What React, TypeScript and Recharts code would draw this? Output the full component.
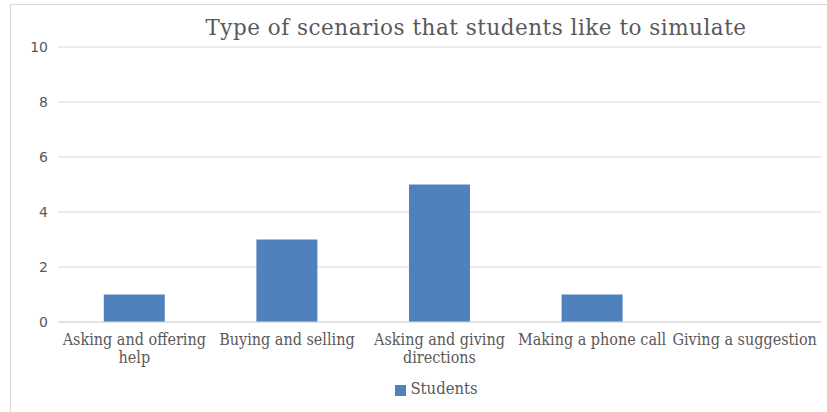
import { BarChart, Bar, XAxis, YAxis, CartesianGrid, Legend } from 'recharts'

const CATEGORIES = [
  'Asking and offering help',
  'Buying and selling',
  'Asking and giving directions',
  'Making a phone call',
  'Giving a suggestion',
]
const STUDENTS = [1, 3, 5, 1, 0]
const Y_TICKS = [0, 2, 4, 6, 8, 10]

const data = CATEGORIES.map((name, i) => ({ name, students: STUDENTS[i] }))

const LABEL_FONT = '"DejaVu Serif Condensed", "DejaVu Serif", serif'

// category labels wrap onto two lines when too wide, like the office chart
function CategoryTick({ x, y, payload }: any) {
  const text: string = payload.value
  let lines = [text]
  if (text.length > 20) {
    const words = text.split(' ')
    lines = [words.slice(0, -1).join(' '), words[words.length - 1]]
  }
  return (
    <text
      x={x}
      y={y + 15}
      textAnchor="middle"
      fill="#595959"
      fontSize={16}
      fontFamily={LABEL_FONT}
      style={{ fontStretch: 'condensed' }}
    >
      {lines.map((l, i) => (
        <tspan key={i} x={x} dy={i === 0 ? 0 : 18}>
          {l}
        </tspan>
      ))}
    </text>
  )
}

export default function App() {
  return (
    <div style={{ position: 'relative', width: 827, height: 412, background: '#fff', overflow: 'hidden' }}>
      <style>{'body{margin:0}'}</style>
      <div
        style={{
          position: 'absolute',
          left: 10,
          top: 4,
          width: 830,
          height: 420,
          border: '1px solid #d9d9d9',
        }}
      />
      <div
        style={{
          position: 'absolute',
          left: 0,
          width: 952,
          top: 15,
          textAlign: 'center',
          fontFamily: '"DejaVu Serif", serif',
          fontSize: 21.5,
          color: '#595959',
          letterSpacing: 0.5,
        }}
      >
        Type of scenarios that students like to simulate
      </div>
      <BarChart
        width={827}
        height={412}
        data={data}
        margin={{ top: 47, right: 6, left: 0, bottom: 5 }}
        barCategoryGap="30%"
        style={{ position: 'absolute', left: 0, top: 0 }}
      >
        <CartesianGrid vertical={false} stroke="#d9d9d9" />
        <XAxis
          dataKey="name"
          interval={0}
          tickLine={false}
          axisLine={{ stroke: '#d9d9d9' }}
          height={57}
          tick={<CategoryTick />}
        />
        <YAxis
          domain={[0, 10]}
          ticks={Y_TICKS}
          width={58}
          tickLine={false}
          axisLine={false}
          tickMargin={4}
          tick={{ fill: '#595959', fontSize: 14, fontFamily: '"DejaVu Sans", sans-serif' }}
        />
        <Legend
          verticalAlign="bottom"
          height={28}
          iconType="square"
          iconSize={11}
          wrapperStyle={{ paddingLeft: 31 }}
          formatter={(v) => (
            <span
              style={{ color: '#595959', fontSize: 16.5, fontFamily: LABEL_FONT, fontStretch: 'condensed' }}
            >
              {v}
            </span>
          )}
        />
        <Bar dataKey="students" name="Students" fill="#4f81bd" isAnimationActive={false} />
      </BarChart>
    </div>
  )
}
